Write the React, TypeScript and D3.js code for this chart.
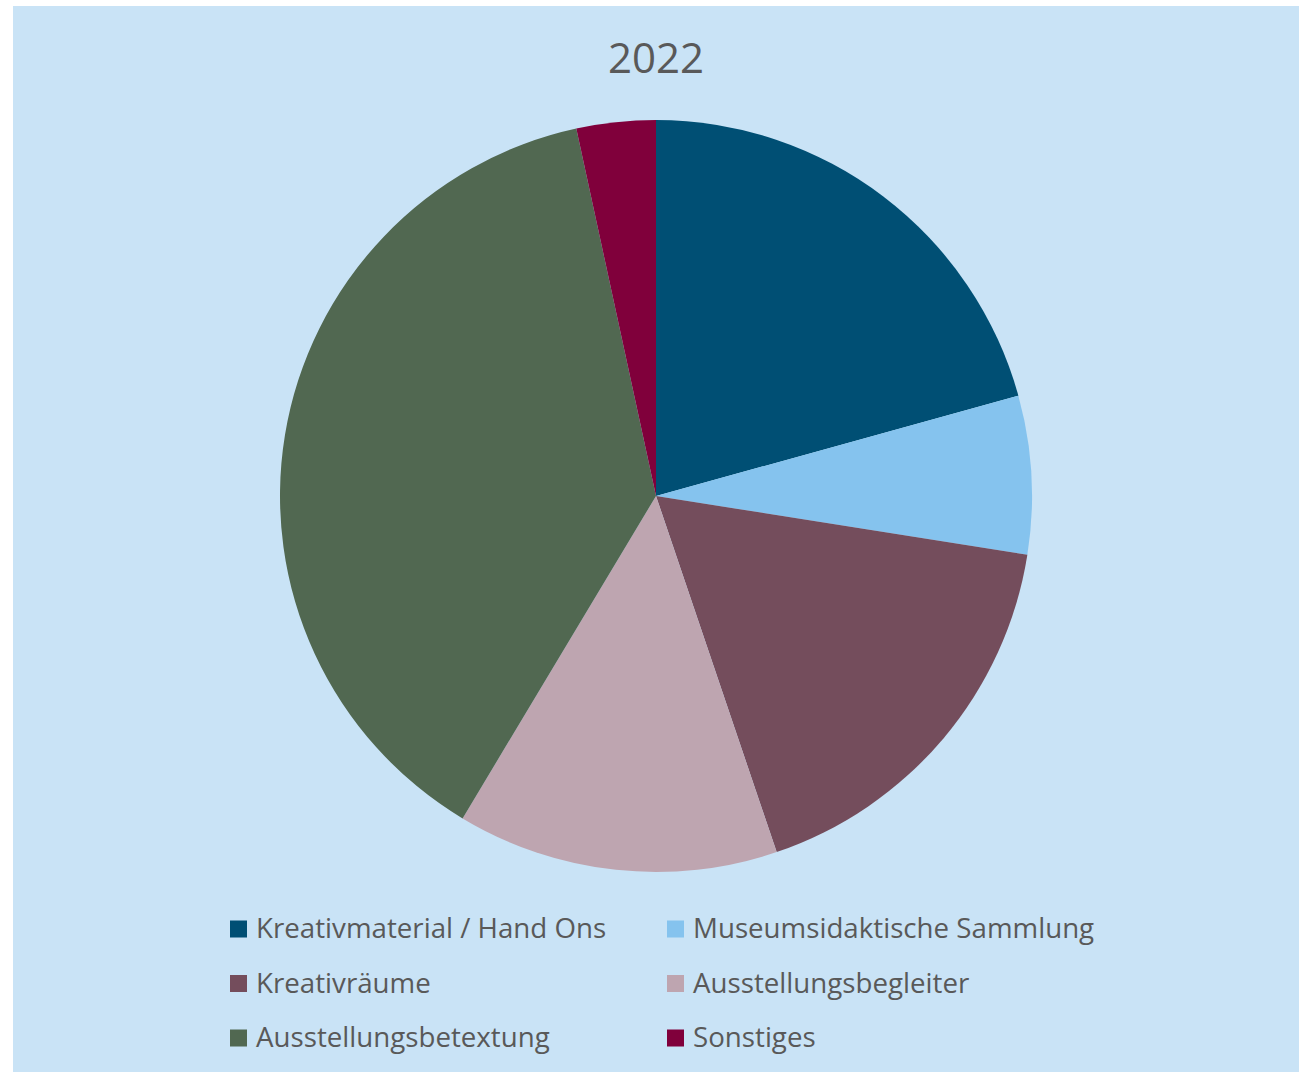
import { useEffect, useRef } from "react";
import * as d3 from "d3";

const categories = [
  "Kreativmaterial / Hand Ons",
  "Museumsidaktische Sammlung",
  "Kreativräume",
  "Ausstellungsbegleiter",
  "Ausstellungsbetextung",
  "Sonstiges",
];
const values = [20.7, 6.8, 17.3, 13.8, 38.0, 3.4];
const colors = ["#004f74", "#85c3ee", "#744d5c", "#bea5b0", "#516851", "#80003b"];
const title = "2022";

const W = 1302;
const H = 1072;

export default function App() {
  const ref = useRef<SVGSVGElement | null>(null);

  useEffect(() => {
    const svg = d3.select(ref.current);
    svg.selectAll("*").remove();

    svg
      .append("rect")
      .attr("x", 13)
      .attr("y", 6)
      .attr("width", 1286)
      .attr("height", H - 6)
      .attr("fill", "#c9e3f6");

    svg
      .append("text")
      .attr("x", 656)
      .attr("y", 73)
      .attr("text-anchor", "middle")
      .attr("fill", "#595959")
      .style("font-family", "'Open Sans', sans-serif")
      .style("font-size", "42px")
      .text(title);

    const data = categories.map((c, i) => ({ name: c, value: values[i], color: colors[i] }));
    const pie = d3
      .pie<{ name: string; value: number; color: string }>()
      .sort(null)
      .value((d) => d.value);
    const arc = d3
      .arc<d3.PieArcDatum<{ name: string; value: number; color: string }>>()
      .innerRadius(0)
      .outerRadius(376);

    svg
      .append("g")
      .attr("transform", "translate(656,496)")
      .selectAll("path")
      .data(pie(data))
      .join("path")
      .attr("d", arc)
      .attr("fill", (d) => d.data.color);

    // Legende: 2 Spalten, 3 Zeilen
    const col = d3.scaleOrdinal<number, number>().domain([0, 1]).range([230, 667]);
    const row = d3.scalePoint<number>().domain([0, 1, 2]).range([929, 1038]);

    const items = svg
      .append("g")
      .selectAll("g")
      .data(data)
      .join("g")
      .attr("transform", (_, i) => `translate(${col(i % 2)},${row(Math.floor(i / 2))})`);

    items
      .append("rect")
      .attr("x", 0)
      .attr("y", -8.5)
      .attr("width", 17)
      .attr("height", 17)
      .attr("fill", (d) => d.color);

    items
      .append("text")
      .attr("x", 26)
      .attr("y", 9)
      .attr("fill", "#595959")
      .style("font-family", "'Open Sans', sans-serif")
      .style("font-size", "27.7px")
      .text((d) => d.name);
  }, []);

  return (
    <svg
      ref={ref}
      width={W}
      height={H}
      viewBox={`0 0 ${W} ${H}`}
      style={{ position: "absolute", left: 0, top: 0 }}
    />
  );
}
